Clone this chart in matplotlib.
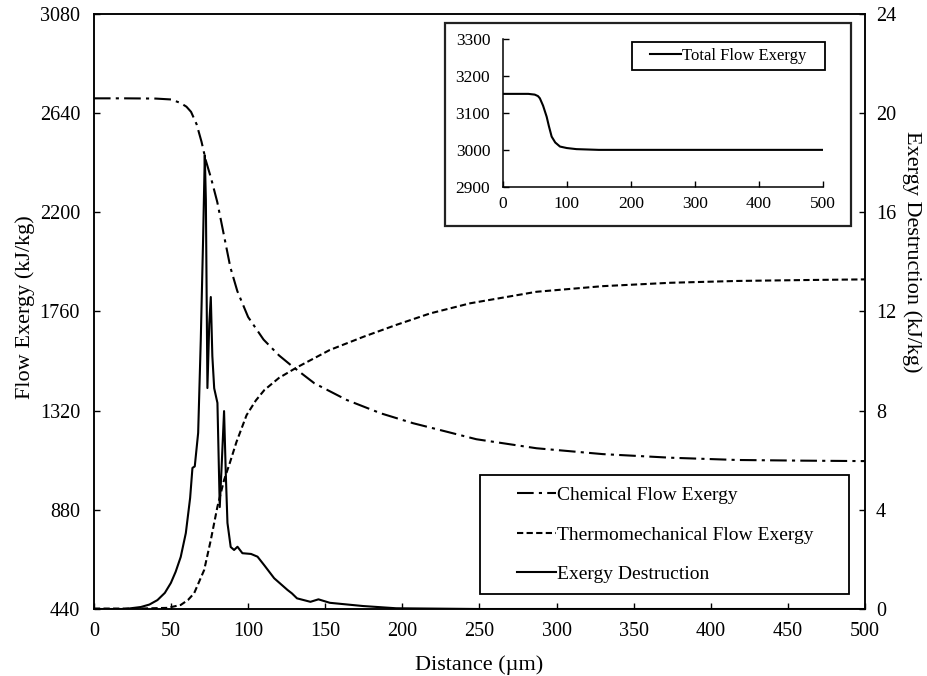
import numpy as np
import matplotlib.pyplot as plt
from matplotlib.lines import Line2D
from matplotlib.patches import Rectangle

plt.rcParams['font.family'] = ['Liberation Serif', 'DejaVu Serif']

# Chemical flow exergy (kJ/kg) along the distance (um)
chem_x = [0, 20, 40, 50, 56, 60, 63, 66.6, 69.8, 72.5, 76, 80, 84.4, 88.5, 93, 100,
          110, 120, 128, 143, 164, 186, 207, 229, 248, 287, 330, 374, 417, 460, 500]
chem_y = [2705, 2705, 2704, 2700, 2685, 2668, 2645, 2590, 2512, 2431, 2350, 2245, 2095, 1955, 1850, 1735,
          1635, 1565, 1520, 1441, 1367, 1308, 1264, 1226, 1193, 1153, 1127, 1111, 1101, 1098, 1096]

# Thermomechanical flow exergy (kJ/kg)
thermo_x = [0, 30, 47.7, 56.3, 61, 65, 71.5, 75.8, 80.1, 84.4, 88, 92.4, 99, 105, 110.5, 120, 131.7,
            153, 175, 196, 218, 244, 287, 330, 374, 417, 460, 500]
thermo_y = [442, 442, 445, 458, 480, 510, 613, 746, 894, 1012, 1085, 1180, 1300, 1365, 1411, 1465, 1512,
            1589, 1648, 1700, 1751, 1796, 1847, 1872, 1887, 1895, 1899, 1902]

# Exergy destruction (kJ/kg), right axis
dest_x = [0, 20, 30.4, 36, 41.2, 46, 49.9, 53, 56.3, 59.6, 62.4, 63.9, 65.4, 67.6, 69.3, 70.8, 71.9, 72.6,
          73.6, 74.8, 75.8, 76.8, 78.0, 80.1, 81.6, 83.0, 84.4, 85.5, 86.6, 88.7, 90.9, 93.1,
          96.3, 101.9, 106.1, 110.4, 116.9, 125.5, 128.4, 131.7, 140.4, 145.6, 153, 174.5,
          196, 250, 500]
dest_y = [0, 0, 0.08, 0.18, 0.36, 0.65, 1.05, 1.5, 2.10, 3.06, 4.48, 5.69, 5.75, 7.10, 10.85, 14.9, 18.3, 16.5,
          8.91, 11.5, 12.58, 10.2, 8.9, 8.31, 4.11, 6.0, 7.98, 5.5, 3.47, 2.50, 2.38, 2.51,
          2.25, 2.22, 2.11, 1.77, 1.24, 0.77, 0.63, 0.43, 0.29, 0.39, 0.25, 0.12,
          0.03, 0, 0]

# Total flow exergy (inset)
total_x = [0, 40, 50, 55, 58, 63, 68.6, 72, 76.4, 82, 89.4, 100, 115, 150, 200, 500]
total_y = [3152, 3152, 3150, 3146, 3140, 3120, 3090, 3065, 3036, 3020, 3009, 3005, 3002, 3000, 3000, 3000]

x_ticks = np.arange(0, 501, 50)
left_ticks = np.arange(440, 3081, 440)
right_ticks = np.arange(0, 25, 4)
inset_xticks = np.arange(0, 501, 100)
inset_yticks = np.arange(2900, 3301, 100)

chem_ls = (0, (8, 2.5, 1.5, 2.5))
thermo_ls = (0, (3, 1.6))


def main():
    fig = plt.figure(figsize=(9.27, 6.76), dpi=100)

    # main axes
    ax = fig.add_axes([0.1013, 0.0991, 0.8318, 0.8805])
    ax.plot(chem_x, chem_y, color='black', lw=1.5, ls=chem_ls)
    ax.plot(thermo_x, thermo_y, color='black', lw=1.5, ls=thermo_ls)
    ax.set_xlim(0, 500)
    ax.set_ylim(440, 3080)
    ax.set_xticks(x_ticks)
    ax.set_yticks(left_ticks)
    ax.tick_params(direction='in', length=4, width=1, labelsize=14.5)
    ax.tick_params(axis='y', pad=10)
    ax.tick_params(axis='x', pad=9)
    for s in ax.spines.values():
        s.set_linewidth(1.1)

    ax2 = ax.twinx()
    ax2.plot(dest_x, dest_y, color='black', lw=1.5)
    ax2.set_ylim(0, 24)
    ax2.set_yticks(right_ticks)
    ax2.tick_params(direction='in', length=4, width=1, labelsize=14.5, pad=8)
    for s in ax2.spines.values():
        s.set_linewidth(1.1)

    ax.set_xlabel('Distance (\u00b5m)', fontsize=16)
    ax.xaxis.set_label_coords(0.5, -0.077)
    ax.set_ylabel('Flow Exergy (kJ/kg)', fontsize=16)
    ax.yaxis.set_label_coords(-0.0764, 0.508)
    ax2.set_ylabel('Exergy Destruction (kJ/kg)', fontsize=16, rotation=-90, va='center')
    ax2.yaxis.set_label_coords(1.061, 0.60)

    # main legend, frame drawn separately
    handles = [Line2D([], [], color='black', lw=1.5, ls=chem_ls),
               Line2D([], [], color='black', lw=1.5, ls=thermo_ls),
               Line2D([], [], color='black', lw=1.5)]
    labels = ['Chemical Flow Exergy', 'Thermomechanical Flow Exergy', 'Exergy Destruction']
    fig.legend(handles, labels, loc='center left', bbox_to_anchor=(517 / 927, 1 - 534.7 / 676),
               frameon=False, fontsize=14, handlelength=2.0, handletextpad=0.05,
               labelspacing=1.12, borderpad=0, borderaxespad=0)
    fig.add_artist(Rectangle((480 / 927, 1 - 594 / 676), 369 / 927, 119 / 676,
                             transform=fig.transFigure, fill=False, ec='black', lw=1.3))

    # inset frame
    fig.add_artist(Rectangle((445 / 927, 1 - 226 / 676), 406 / 927, 203 / 676,
                             transform=fig.transFigure, fc='white', ec='#222222', lw=1.6,
                             zorder=3))

    ins = fig.add_axes([0.5423, 0.7238, 0.3455, 0.2180], zorder=4)
    ins.plot(total_x, total_y, color='black', lw=1.5)
    ins.set_xlim(0, 500)
    ins.set_ylim(2900, 3300)
    ins.set_xticks(inset_xticks)
    ins.set_yticks(inset_yticks)
    ins.spines['top'].set_visible(False)
    ins.spines['right'].set_visible(False)
    for s in ['left', 'bottom']:
        ins.spines[s].set_linewidth(1.1)
    ins.tick_params(direction='in', length=4, width=1, labelsize=12.5)
    ins.tick_params(axis='y', pad=9)
    ins.tick_params(axis='x', pad=7)
    ins.patch.set_alpha(0)

    fig.legend([Line2D([], [], color='black', lw=1.5)], ['Total Flow Exergy'],
               loc='center left', bbox_to_anchor=(650 / 927, 1 - 56 / 676),
               frameon=False, fontsize=12, handlelength=1.86, handletextpad=0.05,
               borderpad=0, borderaxespad=0).set_zorder(5)
    fig.add_artist(Rectangle((631.7 / 927, 1 - 70 / 676), 193.3 / 927, 28.3 / 676,
                             transform=fig.transFigure, fill=False, ec='black', lw=1.3,
                             zorder=5))

    fig.savefig('out.png', dpi=100)


if __name__ == '__main__':
    main()
